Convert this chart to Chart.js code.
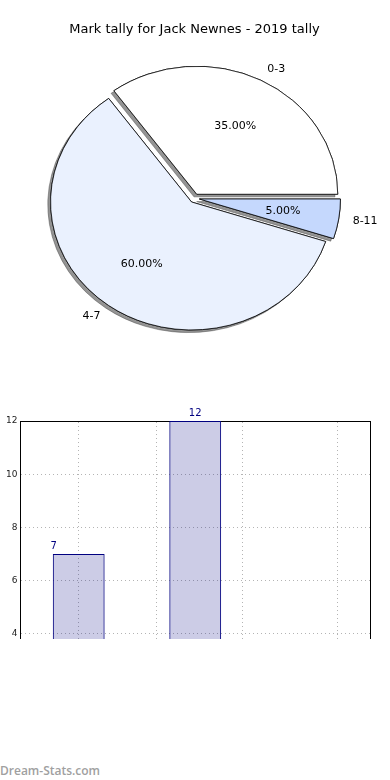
<!DOCTYPE html>
<html>
<head>
<meta charset="utf-8">
<script src="https://cdn.jsdelivr.net/npm/chart.js@4.4.1/dist/chart.umd.min.js"></script>
<style>
  body { margin: 0; background: #fff; }
  #page { position: relative; width: 390px; height: 780px; overflow: hidden; }
  #pieBox { position: absolute; left: 0; top: 0; width: 390px; height: 380px; }
  #barClip { position: absolute; left: 0; top: 400px; width: 390px; height: 239px; overflow: hidden; }
  #barBox { position: absolute; left: -13px; top: 5px; width: 403px; height: 345px; }
  #mark { position: absolute; left: 0; top: 762px; font: 600 12px "Open Sans", sans-serif; color: #a0a0a0; }
</style>
</head>
<body>
<div id="page">
  <div id="pieBox"><canvas id="pie"></canvas></div>
  <div id="barClip"><div id="barBox"><canvas id="bar"></canvas></div></div>
  <div id="mark">Dream-Stats.com</div>
</div>
<script>
// mark ranges and how many games landed in each
const categories = ['0-3', '4-7', '8-11'];
const tally = [7, 12, 1];
const sliceColors = ['#ffffff', '#eaf1fe', '#c5d8fd'];
const yTicks = [0, 2, 4, 6, 8, 10, 12];
const xGridTicks = [0, 1, 2.22];

const total = tally.reduce((a, b) => a + b, 0);

// matplotlib draws the pie counter-clockwise from 3 o'clock, chart.js goes clockwise
const pieLabels = categories.slice().reverse();
const pieValues = tally.slice().reverse();
const pieColors = sliceColors.slice().reverse();

// squash the pie into an ellipse, explode slices and add the grey shadow
const mplPie = {
  id: 'mplPie',
  beforeDatasetDraw(chart, args, opts) {
    const ctx = chart.ctx;
    const arcs = args.meta.data;
    const cx = arcs[0].x, cy = arcs[0].y;
    for (let pass = 0; pass < 2; pass++) {
      ctx.save();
      if (pass === 0) {
        ctx.shadowColor = 'rgba(60,60,60,0.55)';
        ctx.shadowOffsetX = -2.8;
        ctx.shadowOffsetY = 2.6;
      }
      ctx.translate(cx, cy);
      ctx.scale(1, opts.ratio);
      ctx.translate(-cx, -cy);
      arcs.forEach(arc => {
        const mid = (arc.startAngle + arc.endAngle) / 2;
        ctx.save();
        ctx.translate(Math.cos(mid) * opts.explode, Math.sin(mid) * opts.explode);
        arc.draw(ctx);
        ctx.restore();
      });
      ctx.restore();
    }
    return false;
  },
  afterDatasetsDraw(chart, args, opts) {
    const ctx = chart.ctx;
    const arcs = chart.getDatasetMeta(0).data;
    ctx.save();
    ctx.fillStyle = '#000';
    ctx.font = '11px "DejaVu Sans"';
    ctx.textBaseline = 'middle';
    arcs.forEach((arc, i) => {
      const mid = (arc.startAngle + arc.endAngle) / 2;
      const c = Math.cos(mid), s = Math.sin(mid);
      const ox = arc.x + c * opts.explode;
      const oy = arc.y + s * opts.explode * opts.ratio;
      const rx = arc.outerRadius, ry = arc.outerRadius * opts.ratio;
      ctx.textAlign = 'center';
      ctx.fillText((pieValues[i] / total * 100).toFixed(2) + '%', ox + c * rx * 0.6, oy + s * ry * 0.6);
      ctx.textAlign = c >= 0 ? 'left' : 'right';
      ctx.fillText(pieLabels[i], ox + c * rx * 1.1, oy + s * ry * 1.1);
    });
    ctx.restore();
  }
};

new Chart(document.getElementById('pie'), {
  type: 'pie',
  data: {
    labels: pieLabels,
    datasets: [{
      data: pieValues,
      backgroundColor: pieColors,
      borderColor: '#000',
      borderWidth: 0.8
    }]
  },
  options: {
    responsive: true,
    maintainAspectRatio: false,
    animation: false,
    rotation: 90,
    radius: 141,
    layout: { padding: { left: 0, right: 1, top: 0, bottom: 21 } },
    plugins: {
      legend: { display: false },
      tooltip: { enabled: false },
      title: {
        display: true,
        text: 'Mark tally for Jack Newnes - 2019 tally',
        color: '#000',
        font: { family: 'DejaVu Sans', size: 13, weight: 'normal' },
        padding: { top: 22, bottom: 0 }
      },
      mplPie: { ratio: 128 / 141, explode: 5 }
    }
  },
  plugins: [mplPie]
});

// value labels above each bar
const barLabels = {
  id: 'barLabels',
  afterDatasetsDraw(chart, args, opts) {
    const ctx = chart.ctx;
    const bars = chart.getDatasetMeta(0).data;
    ctx.save();
    ctx.fillStyle = 'navy';
    ctx.font = '10px "DejaVu Sans"';
    ctx.textAlign = 'center';
    ctx.textBaseline = 'bottom';
    bars.forEach((bar, i) => {
      const x = opts.align[i] === 'start' ? bar.x - bar.width / 2 + 1 : bar.x;
      ctx.fillText(String(tally[i]), x, bar.y - 3);
    });
    ctx.restore();
  }
};

const dotted = [1, 3];
const gridGrey = '#b4b4b4';

new Chart(document.getElementById('bar'), {
  type: 'bar',
  data: {
    labels: categories,
    datasets: [{
      data: tally,
      backgroundColor: 'rgba(0,0,128,0.2)',
      borderColor: 'navy',
      borderWidth: 1,
      borderSkipped: false,
      barPercentage: 0.445,
      categoryPercentage: 1
    }]
  },
  options: {
    responsive: true,
    maintainAspectRatio: false,
    animation: false,
    layout: { padding: { top: 16, right: 20, bottom: 10, left: 0 } },
    plugins: {
      legend: { display: false },
      tooltip: { enabled: false },
      barLabels: { align: ['start', 'center', 'center'] }
    },
    scales: {
      x: {
        offset: true,
        grid: { display: false, drawTicks: false },
        border: { display: false },
        ticks: { display: false }
      },
      xGrid: {
        type: 'linear',
        position: 'top',
        min: -0.5,
        max: 2.5,
        afterBuildTicks: s => { s.ticks = xGridTicks.map(v => ({ value: v })); },
        grid: { color: gridGrey, drawTicks: false },
        border: { display: true, color: '#000', width: 1, dash: dotted },
        ticks: { display: false }
      },
      y: {
        min: 0,
        max: 12,
        afterBuildTicks: s => { s.ticks = yTicks.map(v => ({ value: v })); },
        grid: { color: gridGrey, drawTicks: false },
        border: { display: true, color: '#000', width: 1, dash: dotted },
        ticks: { color: '#222', padding: 3, font: { family: 'DejaVu Sans', size: 9 } },
        title: {
          display: true,
          text: 'Mark tally',
          color: '#000',
          font: { family: 'DejaVu Sans', size: 10 },
          padding: { top: 0, bottom: 4 }
        }
      },
      yRight: {
        type: 'linear',
        position: 'right',
        grid: { display: false, drawTicks: false },
        border: { display: true, color: '#000', width: 1 },
        ticks: { display: false }
      }
    }
  },
  plugins: [barLabels]
});
</script>
</body>
</html>
